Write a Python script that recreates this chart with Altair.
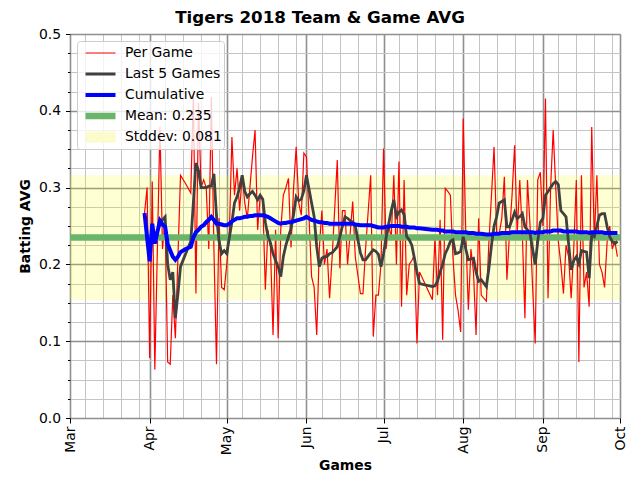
import altair as alt
import pandas as pd

# ---------------- data ----------------
TITLE = "Tigers 2018 Team & Game AVG"
MEAN = 0.235
STD = 0.081

S_GAME = "Per Game"
S_LAST5 = "Last 5 Games"
S_CUM = "Cumulative"

MAR_DAYS = [30, 31]
MAR_GAME = [0.267, 0.300]
MAR_LAST5 = [None, None]
MAR_CUM = [0.267, 0.235]

APR_DAYS = [1, 2, 3, 5, 6, 7, 8, 9, 10, 11, 12, 13, 15, 17, 18, 19, 20, 21, 22, 23, 24, 25, 26, 27, 28, 29, 30]
APR_GAME = [0.078, 0.308, 0.063, 0.379, 0.220, 0.260, 0.073, 0.070, 0.160, 0.104, 0.210, 0.316, 0.305, 0.293,
            0.423, 0.162, 0.410, 0.300, 0.310, 0.300, 0.220, 0.418, 0.220, 0.070, 0.260, 0.170, 0.167]
APR_LAST5 = [None, None, 0.235, 0.253, 0.258, 0.262, 0.200, 0.180, 0.190, 0.130, 0.162, 0.197, 0.214, 0.230,
             0.280, 0.332, 0.322, 0.300, 0.300, 0.300, 0.302, 0.302, 0.318, 0.263, 0.230, 0.214, 0.218]
APR_CUM = [0.204, 0.253, 0.227, 0.257, 0.252, 0.249, 0.227, 0.218, 0.210, 0.206, 0.210, 0.216, 0.220, 0.223,
           0.235, 0.242, 0.245, 0.249, 0.251, 0.255, 0.258, 0.262, 0.258, 0.253, 0.253, 0.252, 0.251]

MAY_DAYS = list(range(1, 32))
MAY_GAME = [0.200, 0.240, 0.366, 0.290, 0.325, 0.270, 0.316, 0.280, 0.260, 0.300, 0.340, 0.375, 0.245, 0.288,
            0.284, 0.167, 0.245, 0.222, 0.108, 0.245, 0.104, 0.245, 0.290, 0.300, 0.312, 0.222, 0.300, 0.353,
            0.280, 0.264, 0.345]
MAY_LAST5 = [0.214, 0.235, 0.255, 0.280, 0.288, 0.300, 0.316, 0.295, 0.288, 0.292, 0.295, 0.290, 0.284, 0.290,
             0.285, 0.255, 0.237, 0.228, 0.214, 0.205, 0.197, 0.184, 0.210, 0.225, 0.236, 0.247, 0.265, 0.288,
             0.283, 0.285, 0.296]
MAY_CUM = [0.251, 0.253, 0.256, 0.258, 0.260, 0.260, 0.261, 0.262, 0.262, 0.263, 0.263, 0.264, 0.264, 0.264,
           0.264, 0.263, 0.262, 0.260, 0.258, 0.256, 0.254, 0.253, 0.254, 0.254, 0.255, 0.255, 0.256, 0.257,
           0.258, 0.259, 0.260]

JUN_DAYS = [1, 3, 4, 5, 6, 7, 8, 9, 10, 11, 13, 14, 15, 16, 17, 18, 19, 20, 22, 23, 24, 26, 27, 28, 29, 30]
JUN_GAME = [0.340, 0.184, 0.170, 0.108, 0.220, 0.270, 0.200, 0.220, 0.156, 0.210, 0.336, 0.195, 0.270, 0.270,
            0.200, 0.240, 0.282, 0.210, 0.162, 0.162, 0.220, 0.316, 0.106, 0.160, 0.160, 0.200]
JUN_LAST5 = [0.316, 0.280, 0.262, 0.223, 0.197, 0.208, 0.210, 0.210, 0.214, 0.215, 0.223, 0.236, 0.250, 0.262,
             0.260, 0.257, 0.255, 0.250, 0.215, 0.206, 0.206, 0.215, 0.219, 0.217, 0.213, 0.197]
JUN_CUM = [0.262, 0.258, 0.257, 0.256, 0.255, 0.255, 0.254, 0.254, 0.253, 0.253, 0.253, 0.253, 0.253, 0.253,
           0.253, 0.253, 0.253, 0.252, 0.251, 0.251, 0.251, 0.251, 0.250, 0.249, 0.248, 0.248]

JUL_DAYS = [1, 2, 3, 4, 5, 6, 7, 8, 9, 10, 11, 12, 13, 14, 15, 20, 21, 22, 23, 24, 25, 26, 27, 28, 29, 30, 31]
JUL_GAME = [0.351, 0.220, 0.250, 0.235, 0.316, 0.200, 0.334, 0.145, 0.310, 0.160, 0.200, 0.205, 0.212, 0.097,
            0.190, 0.154, 0.235, 0.160, 0.258, 0.102, 0.299, 0.295, 0.290, 0.210, 0.160, 0.140, 0.112]
JUL_LAST5 = [0.214, 0.235, 0.253, 0.270, 0.284, 0.262, 0.268, 0.271, 0.265, 0.236, 0.232, 0.225, 0.208, 0.190,
             0.175, 0.171, 0.172, 0.178, 0.190, 0.200, 0.214, 0.221, 0.230, 0.232, 0.214, 0.215, 0.217]
JUL_CUM = [0.248, 0.249, 0.249, 0.250, 0.250, 0.250, 0.250, 0.249, 0.249, 0.249, 0.248, 0.248, 0.248, 0.247,
           0.247, 0.245, 0.245, 0.245, 0.244, 0.244, 0.243, 0.243, 0.243, 0.243, 0.242, 0.242, 0.242]

AUG_DAYS = [1, 2, 3, 4, 5, 6, 7, 8, 10, 11, 12, 13, 14, 15, 16, 17, 18, 19, 20, 21, 22, 23, 24, 25, 26, 27, 28,
            29, 30, 31]
AUG_GAME = [0.390, 0.240, 0.141, 0.220, 0.190, 0.108, 0.260, 0.160, 0.152, 0.230, 0.290, 0.353, 0.240, 0.240,
            0.260, 0.314, 0.180, 0.240, 0.290, 0.355, 0.240, 0.310, 0.240, 0.130, 0.310, 0.250, 0.170, 0.097,
            0.310, 0.320]
AUG_LAST5 = [0.236, 0.220, 0.206, 0.207, 0.208, 0.190, 0.178, 0.180, 0.171, 0.195, 0.225, 0.250, 0.262, 0.280,
             0.282, 0.284, 0.249, 0.249, 0.258, 0.268, 0.260, 0.262, 0.266, 0.249, 0.245, 0.240, 0.220, 0.200,
             0.230, 0.255]
AUG_CUM = [0.242, 0.242, 0.241, 0.241, 0.241, 0.240, 0.240, 0.240, 0.239, 0.239, 0.239, 0.240, 0.240, 0.240,
           0.241, 0.241, 0.241, 0.241, 0.242, 0.242, 0.242, 0.242, 0.242, 0.242, 0.242, 0.242, 0.242, 0.241,
           0.242, 0.242]

SEP_DAYS = list(range(1, 31))
SEP_GAME = [0.250, 0.416, 0.156, 0.300, 0.375, 0.300, 0.230, 0.200, 0.162, 0.225, 0.210, 0.156, 0.220, 0.310,
            0.073, 0.316, 0.170, 0.190, 0.145, 0.379, 0.230, 0.316, 0.200, 0.190, 0.170, 0.230, 0.250, 0.220,
            0.230, 0.210]
SEP_LAST5 = [0.260, 0.290, 0.295, 0.300, 0.305, 0.308, 0.304, 0.270, 0.266, 0.262, 0.227, 0.193, 0.205, 0.210,
             0.201, 0.218, 0.217, 0.216, 0.182, 0.239, 0.236, 0.250, 0.264, 0.266, 0.266, 0.249, 0.236, 0.230,
             0.227, 0.230]
SEP_CUM = [0.242, 0.243, 0.243, 0.243, 0.244, 0.244, 0.244, 0.244, 0.243, 0.243, 0.243, 0.243, 0.243, 0.243,
           0.242, 0.242, 0.242, 0.242, 0.241, 0.242, 0.242, 0.242, 0.242, 0.242, 0.241, 0.241, 0.241, 0.241,
           0.241, 0.241]

MONTH_TABLES = [
    (3, MAR_DAYS, MAR_GAME, MAR_LAST5, MAR_CUM),
    (4, APR_DAYS, APR_GAME, APR_LAST5, APR_CUM),
    (5, MAY_DAYS, MAY_GAME, MAY_LAST5, MAY_CUM),
    (6, JUN_DAYS, JUN_GAME, JUN_LAST5, JUN_CUM),
    (7, JUL_DAYS, JUL_GAME, JUL_LAST5, JUL_CUM),
    (8, AUG_DAYS, AUG_GAME, AUG_LAST5, AUG_CUM),
    (9, SEP_DAYS, SEP_GAME, SEP_LAST5, SEP_CUM),
]

# axis tick positions
X_MONTHS = [3, 4, 5, 6, 7, 8, 9]
X_MINOR_DAYS = [7, 14, 21, 28]
Y_TICKS = [0.0, 0.025, 0.05, 0.075, 0.1, 0.125, 0.15, 0.175, 0.2, 0.225, 0.25, 0.275, 0.3, 0.325, 0.35,
           0.375, 0.4, 0.425, 0.45, 0.475, 0.5]

# ---------------- tables ----------------
rows = []
for m, days, game, last5, cum in MONTH_TABLES:
    for d, g, l5, c in zip(days, game, last5, cum):
        ds = f"2018-{m:02d}-{d:02d}T00:00:00"
        rows.append({"date": ds, "series": S_GAME, "avg": g})
        if l5 is not None:
            rows.append({"date": ds, "series": S_LAST5, "avg": l5})
        rows.append({"date": ds, "series": S_CUM, "avg": c})
df = pd.DataFrame(rows)

S_MEAN = f"Mean: {MEAN:.3f}"
S_STD = f"Stddev: {STD:.3f}"
mean_df = pd.DataFrame({"series": [S_MEAN], "avg": [MEAN]})
band_df = pd.DataFrame({"lo": [MEAN - STD], "hi": [MEAN + STD]})

DOMAIN = [S_GAME, S_LAST5, S_CUM, S_MEAN, S_STD]
COLORS = ["#ff0000", "#404040", "#0000ff", "#6ab56a", "#fbfbcc"]
WIDTHS = [1.2, 2.8, 4.0, 6.5, 11]

FONT = "DejaVu Sans"
MAJOR_X = "date(datum.value) == 1"
MAJOR_Y = "abs(datum.value * 10 - round(datum.value * 10)) < 0.001"

x_values = [alt.DateTime(year=2018, month=m, date=1) for m in X_MONTHS + [10]]
x_values += [alt.DateTime(year=2018, month=m, date=d) for m in X_MONTHS for d in X_MINOR_DAYS]

x_axis = alt.Axis(
    values=x_values, title="Games", titleFont=FONT, titleFontSize=13.9, titleFontWeight="bold",
    titleColor="black", titleY=47, titleBaseline="middle",
    labelExpr=f"{MAJOR_X} ? timeFormat(datum.value, '%b') : ''",
    labelAngle=270, labelFont=FONT, labelFontSize=13.9, labelColor="black", labelPadding=3,
    labelFlush=False, labelOverlap=False, labelBound=False,
    tickSize=5, tickColor="black", tickWidth=1,
    tickOpacity={"condition": {"test": MAJOR_X, "value": 1}, "value": 0},
    grid=True,
    gridColor={"condition": {"test": MAJOR_X, "value": "#8f8f8f"}, "value": "#c4c4c4"},
    gridWidth={"condition": {"test": MAJOR_X, "value": 1.6}, "value": 1.0},
    domain=False,
)
y_axis = alt.Axis(
    values=Y_TICKS, title="Batting AVG", titleFont=FONT, titleFontSize=13.9, titleFontWeight="bold",
    titleColor="black", titleX=-45, titleBaseline="middle",
    labelExpr=f"{MAJOR_Y} ? format(datum.value, '.1f') : ''",
    labelFont=FONT, labelFontSize=13.9, labelColor="black", labelPadding=5,
    labelOverlap=False, labelFlush=False, labelBound=False,
    tickColor="black", tickWidth=1,
    tickSize={"condition": {"test": MAJOR_Y, "value": 4.5}, "value": 2.5},
    grid=True,
    gridColor={"condition": {"test": MAJOR_Y, "value": "#8f8f8f"}, "value": "#c4c4c4"},
    gridWidth={"condition": {"test": MAJOR_Y, "value": 1.6}, "value": 1.0},
    domain=False,
)

x_scale = alt.Scale(domain=[alt.DateTime(year=2018, month=3, date=1), alt.DateTime(year=2018, month=10, date=1)])
y_scale = alt.Scale(domain=[0, 0.5], nice=False, zero=False)

legend = alt.Legend(
    title=None, orient="top-left", offset=7, padding=2,
    fillColor="rgba(255,255,255,0.8)", strokeColor="#cccccc", cornerRadius=3,
    symbolType="stroke", symbolSize=900, symbolOffset=1, labelFont=FONT, labelFontSize=13.9,
    labelColor="black", labelOffset=4, clipHeight=20, rowPadding=1,
)
color_enc = alt.Color("series:N", scale=alt.Scale(domain=DOMAIN, range=COLORS), legend=legend)
width_enc = alt.StrokeWidth("series:N", scale=alt.Scale(type="ordinal", domain=DOMAIN, range=WIDTHS),
                            legend=legend)

X = alt.X("date:T", scale=x_scale, axis=x_axis)
Y = alt.Y("avg:Q", scale=y_scale, axis=y_axis)

band = alt.Chart(band_df).mark_rect(color="#ffff00", opacity=0.17).encode(
    y=alt.Y("lo:Q", scale=y_scale, axis=y_axis), y2="hi:Q"
)
base = alt.Chart(df)
per_game = base.transform_filter(alt.datum.series == S_GAME).mark_line().encode(
    x=X, y=Y, color=color_enc, strokeWidth=width_enc, order="date:T")
mean_line = alt.Chart(mean_df).mark_rule().encode(y=Y, color=color_enc, strokeWidth=width_enc)
last5 = base.transform_filter(alt.datum.series == S_LAST5).mark_line().encode(
    x=X, y=Y, color=color_enc, strokeWidth=width_enc, order="date:T")
cum = base.transform_filter(alt.datum.series == S_CUM).mark_line().encode(
    x=X, y=Y, color=color_enc, strokeWidth=width_enc, order="date:T")

chart = alt.layer(band, per_game, mean_line, last5, cum).properties(
    width=550, height=384,
    title=alt.TitleParams(TITLE, font=FONT, fontSize=16.7, fontWeight="bold", color="black",
                          anchor="middle", dx=-25, dy=24, offset=11, baseline="alphabetic"),
    autosize=alt.AutoSizeParams(type="none"),
    padding={"left": 62, "top": 26, "right": 10, "bottom": 54},
).configure_view(stroke="black", strokeWidth=1.1).configure(background="white")

chart.save("out.html", embed_options={"renderer": "svg", "actions": False})
